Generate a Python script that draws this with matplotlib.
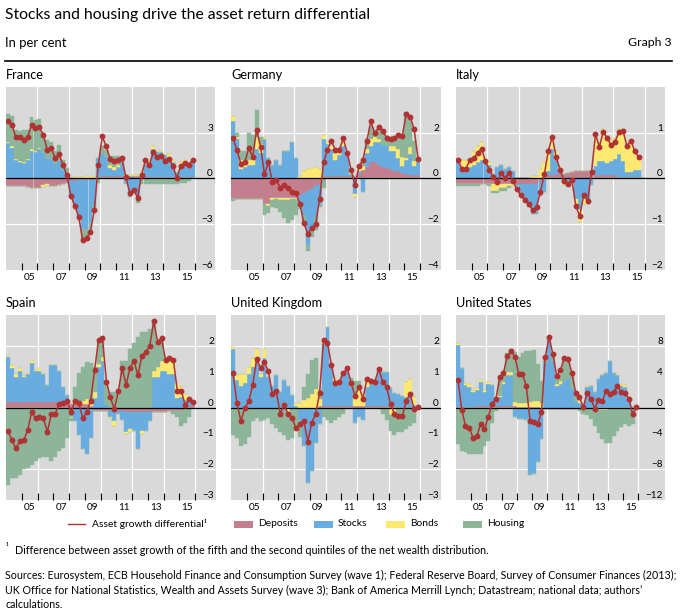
import numpy as np
import matplotlib
matplotlib.use("Agg")
import matplotlib.pyplot as plt
from matplotlib.patches import Rectangle
from matplotlib.lines import Line2D

plt.rcParams['font.family'] = ['Lato', 'DejaVu Sans']

# ---------------- data (quarterly, 2004Q1 .. 2015Q4) ----------------
quarters = [f"{y}Q{q}" for y in range(2004, 2016) for q in range(1, 5)]

france_line = [3.77,3.48,2.73,2.73,2.53,2.73,3.5,3.27,3.33,2.86,1.86,2.0,1.32,1.58,0.89,0.19,-1.13,-1.8,-2.5,-4.03,-3.92,-3.48,-2.06,0.89,2.75,2.1,1.28,1.13,1.21,1.32,0.09,-0.95,-0.74,-1.26,0.24,1.17,0.89,1.71,1.39,1.49,1.13,1.28,0.78,0.02,0.84,1.0,0.89,1.21]
france_deposits = [-0.5,-0.5,-0.5,-0.5,-0.5,-0.55,-0.6,-0.6,-0.6,-0.45,-0.4,-0.5,-0.5,-0.45,-0.4,-0.3,-0.2,-0.15,-0.1,-0.1,-0.1,-0.1,-0.1,0.05,0.15,0.15,0.15,0.15,0.15,0.15,0.15,0.15,0.15,0.15,0.15,0.15,0.1,0.1,0.1,0.1,0.1,0.1,0.1,0.1,0.1,0.1,0.1,0.1]
france_stocks = [2.3,2.0,1.2,1.1,1.0,1.2,1.8,1.7,1.9,1.7,1.3,1.3,1.0,1.2,0.6,0.3,-1.0,-1.6,-2.3,-3.2,-3.3,-2.8,-1.7,1.3,1.5,1.3,0.5,0.4,0.6,0.9,-0.3,-0.9,-0.7,-1.1,0.2,0.8,1.0,1.8,1.6,1.6,1.4,1.3,1.0,0.3,0.8,0.9,0.8,1.0]
france_bonds = [0.1,0.1,0.05,0.05,0.05,0.05,0.1,0.1,0.1,-0.1,-0.1,0.0,0.0,0.0,0.0,0.0,0.05,0.1,0.1,0.1,0.15,0.15,0.1,0.0,0.0,0.0,0.2,0.2,0.1,0.0,0.1,0.1,0.1,0.1,0.1,0.0,0.1,0.2,0.1,0.1,0.0,0.2,0.1,0.05,0.2,0.2,0.1,0.1]
france_housing = [1.8,2.0,1.9,1.95,2.1,1.9,2.1,2.0,1.9,1.3,1.2,1.1,0.8,1.0,0.6,0.4,0.0,0.0,-0.2,-0.7,-0.6,-0.8,-0.3,-0.3,0.5,0.4,0.6,0.7,0.6,0.3,-0.1,-0.3,-0.2,-0.5,-0.4,-0.4,-0.4,-0.4,-0.4,-0.4,-0.4,-0.35,-0.35,-0.35,-0.3,-0.3,-0.2,0.0]

germany_line = [1.74,1.25,0.63,0.7,1.31,0.95,2.1,1.38,0.17,0.72,-0.17,-0.09,-0.4,-0.27,-0.42,-0.59,-0.63,-1.12,-1.96,-2.42,-2.17,-1.99,-0.89,0.7,1.25,1.64,1.24,1.24,1.74,1.12,0.37,-0.3,0.52,0.8,1.64,2.5,1.96,2.24,2.07,1.78,1.73,1.74,1.9,1.86,2.82,2.68,2.14,0.86]
germany_deposits = [-0.9,-0.9,-0.9,-0.9,-0.9,-0.9,-0.9,-0.9,-1.1,-1.1,-0.85,-0.85,-0.85,-0.85,-0.85,-0.85,-0.85,-0.75,-0.65,-0.55,-0.45,-0.35,-0.25,0.1,0.1,0.1,0.1,0.1,0.1,0.1,0.1,0.1,0.2,0.35,0.5,0.7,0.7,0.6,0.5,0.45,0.4,0.3,0.3,0.25,0.2,0.15,0.15,0.15]
germany_stocks = [2.5,1.7,0.4,0.5,0.6,0.6,1.3,1.1,1.7,0.9,0.6,0.8,0.6,1.2,1.2,1.6,0.9,-0.3,-1.0,-2.4,-1.8,-1.4,-0.9,1.6,1.4,1.2,0.7,0.9,1.3,0.9,0.1,-0.7,0.1,-0.6,0.6,0.7,0.9,1.0,1.0,1.0,0.8,0.9,0.6,0.3,0.6,0.9,0.4,0.7]
germany_bonds = [0.2,0.1,0.4,0.3,0.2,0.3,0.5,0.4,0.1,-0.1,-0.1,-0.05,-0.1,-0.1,-0.1,-0.05,-0.05,0.1,0.3,0.4,0.45,0.5,0.4,0.2,0.1,0.1,0.3,0.2,0.3,0.1,0.2,-0.1,0.2,0.2,0.2,0.3,0.2,0.1,-0.05,-0.05,0.2,0.2,0.4,0.4,0.1,0.3,0.2,0.0]
germany_housing = [-0.1,0.2,0.4,0.4,1.2,1.0,1.2,0.3,-0.5,-0.3,-0.3,-0.4,-0.5,-0.8,-1.0,-0.9,-0.7,-0.3,-0.3,-0.2,-0.3,-0.5,-0.1,-0.4,0.0,0.0,0.0,0.0,0.0,0.0,0.0,0.0,0.1,0.2,0.4,0.6,0.3,0.5,0.5,0.3,0.4,0.4,0.6,1.0,2.0,1.4,0.9,0.0]

italy_line = [0.40,0.21,0.21,0.39,0.44,0.55,0.65,0.37,0.19,0.03,-0.08,0.12,0.0,0.12,-0.06,-0.24,-0.37,-0.47,-0.56,-0.69,-0.62,-0.29,0.10,0.60,0.91,0.46,0.19,-0.06,-0.12,-0.04,-0.6,-0.83,-0.37,-0.49,0.14,0.96,0.69,1.02,0.87,0.73,0.80,1.02,1.04,0.71,0.82,0.60,0.46,np.nan]
italy_deposits = [-0.12]*21 + [-0.08,0.05,0.07,0.08,0.1,0.1,0.1,0.12,0.13,0.15,0.15,0.15,0.15,0.15,0.08,0.08,0.08,0.08,0.08,0.08,0.03,0.03,0.03,0.03,0.03,0.03,0.0]
italy_stocks = [0.4,0.25,0.25,0.25,0.3,0.35,0.4,0.35,0.3,0.1,0.25,0.3,0.2,0.25,0.15,-0.05,-0.2,-0.35,-0.5,-0.65,-0.65,-0.3,-0.3,0.1,0.55,0.3,0.05,-0.1,-0.1,-0.05,-0.45,-0.7,-0.45,-0.5,-0.15,0.2,0.3,0.3,0.25,0.3,0.35,0.5,0.35,0.1,0.1,0.15,0.15,0.0]
italy_bonds = [0.05,0.15,0.15,0.15,0.3,0.35,0.4,0.1,0.05,-0.15,-0.15,-0.1,-0.1,-0.05,-0.05,0.0,0.0,0.0,0.0,0.05,0.05,0.2,0.3,0.4,0.25,0.2,0.1,-0.05,-0.05,0.0,-0.2,-0.25,-0.1,-0.05,0.0,0.7,0.4,0.7,0.6,0.45,0.45,0.55,0.7,0.6,0.7,0.45,0.3,0.0]
italy_housing = [-0.05,-0.05,-0.05,-0.05,-0.05,-0.05,0.0,0.0,-0.05,-0.05,-0.05,-0.05,-0.05,-0.05] + [0.0]*34

spain_line = [-0.76,-1.06,-1.32,-1.10,-1.06,-0.74,-0.15,-0.35,-0.31,-0.35,-0.79,-0.22,-0.2,0.12,0.14,0.22,-0.14,0.2,0.14,-0.35,-0.14,0.22,1.22,2.18,2.24,0.84,0.33,-0.06,0.52,1.27,0.74,1.29,1.51,1.04,1.68,1.81,2.0,2.79,2.13,2.26,1.54,1.59,1.54,0.55,0.55,0.07,0.26,0.17]
spain_deposits = [0.18]*15 + [0.12]*6 + [0.05] + [-0.1]*8 + [-0.15]*11 + [-0.1]*4 + [0.05]*3
spain_stocks = [1.45,1.1,0.8,1.0,0.8,0.9,1.25,1.0,1.0,0.9,0.55,1.2,1.2,1.0,0.5,0.3,-0.3,-0.45,-0.9,-1.35,-1.5,-1.0,0.3,1.3,1.5,0.1,-0.2,-0.35,-0.1,-0.3,-0.65,-0.55,-0.6,-1.2,-0.6,-0.6,-0.3,1.0,1.0,1.2,1.2,1.1,1.1,0.3,0.35,0.2,0.2,0.1]
spain_bonds = [0.05,0.1,0.1,0.1,0.05,0.05,0.1,0.05,0.1,0.0,-0.05,-0.05,0.0,0.0,0.0,0.0,-0.05,0.05,0.1,0.1,0.15,0.2,0.2,0.1,0.15,0.0,-0.05,-0.15,0.0,0.0,-0.05,-0.1,0.0,0.0,-0.1,0.0,0.0,0.2,0.3,0.3,0.3,0.45,0.4,0.5,0.3,0.2,0.0,0.0]
spain_housing = [-2.5,-2.3,-2.3,-2.2,-2.0,-1.95,-1.85,-1.75,-1.65,-1.6,-1.55,-1.7,-1.6,-1.4,-1.3,-1.0,-0.1,0.5,0.9,1.1,1.2,1.2,0.8,0.8,0.6,0.8,0.5,0.5,0.5,1.5,1.5,1.9,2.1,2.3,2.45,2.45,2.55,1.6,0.8,0.7,0.1,0.0,-0.1,-0.2,-0.5,-0.5,-0.3,0.0]

uk_line = [1.11,0.15,-0.44,-0.01,0.2,0.72,1.56,1.29,1.47,1.17,0.44,0.52,-0.2,0.07,-0.2,-0.33,-0.67,-0.52,-0.44,-1.11,-0.49,-0.2,0.47,2.2,2.1,1.38,0.79,0.84,1.11,1.27,0.81,0.36,0.68,0.28,0.93,0.87,0.82,1.25,0.84,0.68,0.1,-0.2,-0.28,-0.28,0.22,0.44,-0.06,0.02]
uk_deposits = [-0.05]*22 + [0.06]*18 + [0.03]*8
uk_stocks = [1.9,0.9,0.7,0.8,1.1,1.3,1.6,1.0,1.6,1.0,0.7,1.05,0.5,0.9,0.7,0.4,0.05,-0.4,-1.2,-2.4,-2.0,-1.1,-0.55,2.0,2.55,1.3,0.8,0.8,1.0,1.2,0.6,-0.5,-0.3,-0.4,0.6,0.7,0.8,1.1,1.1,1.1,0.6,0.45,0.4,0.35,0.3,0.3,0.05,0.0]
uk_bonds = [0.05,0.15,0.4,0.3,0.2,0.3,0.3,0.1,0.3,0.0,0.0,0.0,0.0,0.0,-0.1,0.0,0.1,0.15,0.25,0.3,0.45,0.6,0.2,0.15,0.0,0.0,0.1,0.0,0.0,0.0,0.0,0.3,0.6,0.4,0.2,0.1,0.0,0.0,0.0,0.0,-0.25,-0.3,0.0,0.0,0.5,0.6,0.25,0.0]
uk_housing = [-0.85,-0.95,-1.2,-1.15,-0.9,-0.4,-0.3,-0.4,-0.35,-0.3,-0.5,-0.6,-0.75,-0.85,-0.9,-0.95,-0.65,-0.5,0.4,0.8,1.1,1.0,0.3,-0.3,-0.4,-0.5,-0.4,-0.3,-0.2,0.0,0.3,0.5,0.2,0.0,0.1,0.0,0.0,0.0,-0.2,-0.4,-0.5,-0.6,-0.8,-0.8,-0.7,-0.6,-0.5,0.0]

us_line = [3.6,-0.26,-2.4,-2.6,-4.0,-3.7,-2.1,-2.8,-1.24,0.51,1.1,3.9,4.5,6.7,7.3,6.6,4.4,4.3,2.8,-1.75,-1.9,-2.2,-0.56,6.6,9.1,6.9,4.1,4.9,6.4,6.3,4.5,1.9,1.3,0.04,1.9,1.15,-0.13,1.0,0.8,2.2,1.75,2.0,2.8,1.97,1.9,1.15,-0.9,0.04]
us_deposits = [0.1]*5 + [0.25]*11 + [0.1]*6 + [-0.2]*14 + [-0.05]*12
us_stocks = [8.0,5.0,2.8,2.6,1.9,2.0,3.0,1.8,2.8,2.7,1.0,1.1,2.8,4.0,4.0,-1.2,-1.5,-1.5,-1.6,-8.8,-8.6,-7.1,-3.9,5.8,8.6,6.0,2.8,3.0,3.5,3.8,2.5,0.8,0.6,0.3,2.6,2.8,2.0,3.7,4.2,4.5,6.0,4.5,4.2,2.8,2.6,1.1,0.1,0.0]
us_bonds = [0.3,0.0,0.3,0.3,0.3,0.3,0.3,0.2,0.2,0.0,0.0,0.1,0.2,0.3,0.3,0.4,0.5,0.5,0.5,0.6,0.7,0.7,0.6,0.0,0.0,0.0,0.3,0.4,0.0,0.0,0.0,0.0,0.5,0.0,0.2,0.0,-0.3,-0.3,-0.3,-0.3,-0.2,-0.2,0.2,0.3,0.35,0.2,0.0,0.0]
us_housing = [-4.7,-5.6,-5.8,-6.0,-6.0,-6.0,-6.0,-5.0,-4.3,-2.0,-0.5,2.7,1.5,2.5,3.0,6.5,6.0,6.5,6.7,6.6,6.6,4.9,2.8,0.8,0.5,0.5,0.8,1.0,2.6,2.5,1.6,1.3,-0.3,-0.6,-0.8,-1.3,-2.0,-3.0,-3.8,-4.2,-4.3,-3.5,-3.0,-2.5,-2.1,-2.3,-2.1,0.0]

series_names = ["Deposits", "Stocks", "Bonds", "Housing"]
series_colors = ["#c47f8e", "#69ade0", "#fde872", "#8db59a"]
line_color = "#b03232"
bg_color = "#d9d9d9"

panels = [
    dict(title="France", comps=[france_deposits, france_stocks, france_bonds, france_housing], line=france_line,
         ylim=(-6, 6), ticks=[-6, -3, 0, 3], grid=[-3, 3], xmax=2017.3, box=(6, 86.7, 215, 270)),
    dict(title="Germany", comps=[germany_deposits, germany_stocks, germany_bonds, germany_housing], line=germany_line,
         ylim=(-4, 4), ticks=[-4, -2, 0, 2], grid=[-2, 2], xmax=2017.33, box=(231, 86.7, 441, 270)),
    dict(title="Italy", comps=[italy_deposits, italy_stocks, italy_bonds, italy_housing], line=italy_line,
         ylim=(-2, 2), ticks=[-2, -1, 0, 1], grid=[-1, 1], xmax=2017.3, box=(456, 86.7, 665, 270)),
    dict(title="Spain", comps=[spain_deposits, spain_stocks, spain_bonds, spain_housing], line=spain_line,
         ylim=(-3, 3), ticks=[-3, -2, -1, 0, 1, 2], grid=[-2, 2], xmax=2017.33, box=(6, 315, 216, 500)),
    dict(title="United Kingdom", comps=[uk_deposits, uk_stocks, uk_bonds, uk_housing], line=uk_line,
         ylim=(-3, 3), ticks=[-3, -2, -1, 0, 1, 2], grid=[-2, 2], xmax=2017.33, box=(231, 315, 441, 500)),
    dict(title="United States", comps=[us_deposits, us_stocks, us_bonds, us_housing], line=us_line,
         ylim=(-12, 12), ticks=[-12, -8, -4, 0, 4, 8], grid=[-8, 8], xmax=2017.75, box=(456, 315, 665, 500)),
]

year_ticks = list(range(2005, 2017))
label_years = [2005, 2007, 2009, 2011, 2013, 2015]
grid_years = [2006, 2008, 2010, 2012, 2014, 2016]

# ---------------- figure ----------------
W, H = 680, 613
fig = plt.figure(figsize=(W / 100, H / 100), dpi=100)
renderer = fig.canvas.get_renderer()


def fit(t, target_px):
    w = t.get_window_extent(renderer).width
    t.set_fontsize(t.get_fontsize() * target_px / w)
    return t.get_fontsize()


def fx(px):
    return px / W


def fy(py):
    return 1 - py / H


xq = np.array([int(s[:4]) + (int(s[-1]) - 0.5) / 4 for s in quarters])

title_size = None
for p in panels:
    x0, y0, x1, y1 = p["box"]
    ax = fig.add_axes([fx(x0), fy(y1), (x1 - x0) / W, (y1 - y0) / H])
    ax.set_facecolor(bg_color)
    for s in ax.spines.values():
        s.set_visible(False)
    ax.set_xlim(2004, p["xmax"])
    ax.set_ylim(*p["ylim"])

    for gx in grid_years:
        ax.axvline(gx, color="white", lw=0.9, zorder=1)
    for gy in p["grid"]:
        ax.axhline(gy, color="white", lw=0.9, zorder=1)

    pos = np.zeros(len(xq))
    neg = np.zeros(len(xq))
    for vals, col in zip(p["comps"], series_colors):
        v = np.nan_to_num(np.asarray(vals, dtype=float))
        vp = np.where(v > 0, v, 0.0)
        vn = np.where(v < 0, v, 0.0)
        ax.bar(xq, vp, width=0.25, bottom=pos, color=col, edgecolor=col, lw=0.3, zorder=2)
        ax.bar(xq, vn, width=0.25, bottom=neg, color=col, edgecolor=col, lw=0.3, zorder=2)
        pos += vp
        neg += vn

    ax.axhline(0, color="black", lw=0.9, zorder=3)
    ax.plot(xq, p["line"], color=line_color, lw=1.1, marker="o", ms=3.2, zorder=4)

    ax.set_xticks(year_ticks)
    ax.set_xticks([y + 0.5 for y in label_years], minor=True)
    ax.set_xticklabels([f"{y % 100:02d}" for y in label_years], minor=True)
    ax.tick_params(axis="x", which="major", direction="in", length=5, width=0.8, color="black",
                   labelbottom=False)
    ax.tick_params(axis="x", which="minor", length=0, pad=2.5, labelsize=7.2)

    ax.yaxis.tick_right()
    ax.set_yticks(p["ticks"])
    ax.set_yticklabels([str(t).replace("-", "\u2212") for t in p["ticks"]])
    ax.tick_params(axis="y", which="major", direction="in", length=0, pad=-1.5, labelsize=7.2)
    for lab in ax.get_yticklabels():
        lab.set_ha("right")
        lab.set_va("bottom")

    tt = fig.text(fx(x0), fy(y0 - 12), p["title"], fontsize=8.4, va="center", ha="left")
    if p["title"] == "United Kingdom":
        title_size = fit(tt, 92)
    p["_t"] = tt

for p in panels:
    p["_t"].set_fontsize(title_size)

# header
t = fig.text(fx(5), fy(15), "Stocks and housing drive the asset return differential", fontsize=10.5, va="center")
fit(t, 368)
t = fig.text(fx(5), fy(43), "In per cent", fontsize=8.3, va="center")
fit(t, 61)
t = fig.text(fx(672), fy(43), "Graph 3", fontsize=8.3, va="center", ha="right")
fit(t, 43)
fig.add_artist(Line2D([fx(5), fx(672)], [fy(60.5), fy(60.5)], color="black", lw=1.2))

# legend (manual)
ly = fy(524)
fig.add_artist(Line2D([fx(68), fx(85)], [ly, ly], color=line_color, lw=1.0))
lt = fig.text(fx(92), ly, "Asset growth differential\u00b9", fontsize=7, va="center")
leg_size = fit(lt, 115)
box_x = [234, 314, 386, 463]
for bx, name, col in zip(box_x, series_names, series_colors):
    fig.add_artist(Rectangle((fx(bx), fy(527.5)), 19 / W, 7 / H, facecolor=col, edgecolor="none",
                             transform=fig.transFigure))
    fig.text(fx(bx + 24), ly, name, fontsize=leg_size, va="center")

# footnotes
fig.text(fx(6), fy(548), "\u00b9", fontsize=6.5, va="center")
t = fig.text(fx(15), fy(550), "Difference between asset growth of the fifth and the second quintiles of the net wealth distribution.",
             fontsize=7, va="center")
fit(t, 473)
src = ["Sources: Eurosystem, ECB Household Finance and Consumption Survey (wave 1); Federal Reserve Board, Survey of Consumer Finances (2013);",
       "UK Office for National Statistics, Wealth and Assets Survey (wave 3); Bank of America Merrill Lynch; Datastream; national data; authors\u2019",
       "calculations."]
t1 = fig.text(fx(5), fy(575), src[0], fontsize=7, va="center")
s_size = fit(t1, 667)
fig.text(fx(5), fy(590), src[1], fontsize=s_size, va="center")
fig.text(fx(5), fy(605), src[2], fontsize=s_size, va="center")

fig.savefig("out.png", dpi=100)
